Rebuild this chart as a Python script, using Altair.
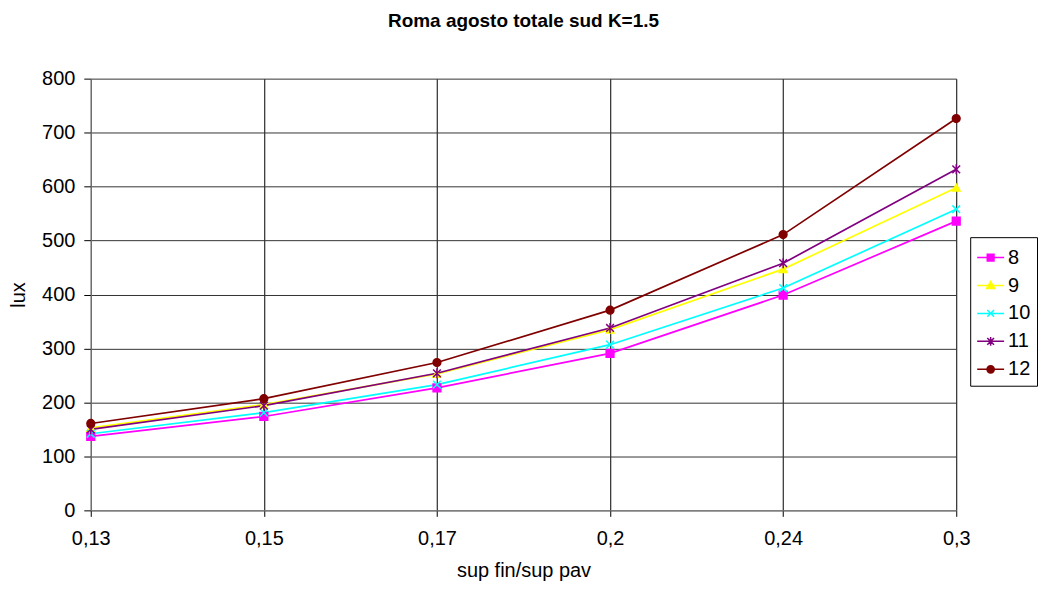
import altair as alt
import pandas as pd

x_labels = ["0,13", "0,15", "0,17", "0,2", "0,24", "0,3"]
series_names = ["8", "9", "10", "11", "12"]
s8 = [137, 174, 227, 291, 399, 536]
s9 = [153, 196, 253, 335, 447, 598]
s10 = [142, 181, 233, 307, 412, 558]
s11 = [150, 194, 254, 338, 458, 632]
s12 = [161, 207, 274, 371, 511, 726]
colors = ["#FF00FF", "#FFFF00", "#00FFFF", "#800080", "#800000"]

marker_shapes = [
    "square",
    "triangle-up",
    "M-1,-1L1,1M1,-1L-1,1",
    "M-1,-1L1,1M1,-1L-1,1M0,-1.3V1.3",
    "circle",
]
legend_shapes = [
    "M-1,0H1M-0.25,-0.25H0.25V0.25H-0.25Z",
    "M-1,0H1M0,-0.3L0.3,0.22L-0.3,0.22Z",
    "M-1,0H1M-0.25,-0.25L0.25,0.25M0.25,-0.25L-0.25,0.25",
    "M-1,0H1M-0.25,-0.25L0.25,0.25M0.25,-0.25L-0.25,0.25M0,-0.32V0.32",
    "M-1,0H1M0.27,0A0.27,0.27,0,1,1,-0.27,0A0.27,0.27,0,1,1,0.27,0Z",
]

rows = []
for name, vals in zip(series_names, [s8, s9, s10, s11, s12]):
    for xl, v in zip(x_labels, vals):
        rows.append({"x": xl, "lux": v, "serie": name})
df = pd.DataFrame(rows)

FONT = "Liberation Sans"

xenc = alt.X(
    "x:N",
    scale=alt.Scale(type="point", padding=0, domain=x_labels),
    axis=alt.Axis(
        title="sup fin/sup pav", labelAngle=0, grid=True, gridColor="#000000",
        tickSize=6, labelPadding=12, titlePadding=12,
    ),
)
yenc = alt.Y(
    "lux:Q",
    scale=alt.Scale(domain=[0, 800], nice=False),
    axis=alt.Axis(
        title="lux", values=list(range(0, 801, 100)), grid=True, gridColor="#333333",
        tickSize=7, labelPadding=9, titlePadding=13,
    ),
)

col_scale = alt.Scale(domain=series_names, range=colors)

lines = alt.Chart(df).mark_line(strokeWidth=1.7).encode(
    x=xenc, y=yenc,
    color=alt.Color("serie:N", scale=col_scale, legend=None),
    detail="serie:N",
)

points = alt.Chart(df).mark_point(size=60, strokeWidth=1.5, opacity=1).encode(
    x=xenc, y=yenc,
    fill=alt.Fill("serie:N", scale=col_scale, legend=None),
    stroke=alt.Stroke("serie:N", scale=col_scale, legend=None),
    shape=alt.Shape("serie:N", scale=alt.Scale(domain=series_names, range=marker_shapes), legend=None),
)

leg = alt.Legend(
    title=None, orient="none", legendX=882, legendY=159,
    symbolSize=729, symbolStrokeWidth=1.5, labelFontSize=20, labelFont=FONT,
    labelOffset=3, rowPadding=3, padding=6, strokeColor="#000000",
    fillColor="#FFFFFF", symbolOpacity=1,
)
legend_layer = alt.Chart(df).transform_filter("datum.lux < -1").mark_point(opacity=1).encode(
    x=xenc, y=yenc,
    fill=alt.Fill("serie:N", scale=alt.Scale(domain=series_names, range=colors), legend=leg),
    stroke=alt.Stroke("serie:N", scale=alt.Scale(domain=series_names, range=colors), legend=leg),
    shape=alt.Shape("serie:N", scale=alt.Scale(domain=series_names, range=legend_shapes), legend=leg),
)

chart = alt.layer(lines, points, legend_layer).resolve_scale(
    color="independent", fill="independent", stroke="independent", shape="independent"
).properties(
    width=868, height=433,
    title=alt.Title("Roma agosto totale sud K=1.5", fontSize=19, fontWeight="bold",
                    font=FONT, anchor="middle", frame="group", offset=38, color="#000000"),
    padding={"left": 0, "top": 3, "right": 0, "bottom": 0},
).configure_axis(
    labelFont=FONT, titleFont=FONT, labelFontSize=20, titleFontSize=20,
    labelColor="#000000", titleColor="#000000", titleFontWeight="normal",
    domainColor="#808080", tickColor="#000000", gridOpacity=1, gridWidth=1,
).configure_view(stroke=None)

chart.save("out.html", embed_options={"renderer": "svg", "actions": False})
